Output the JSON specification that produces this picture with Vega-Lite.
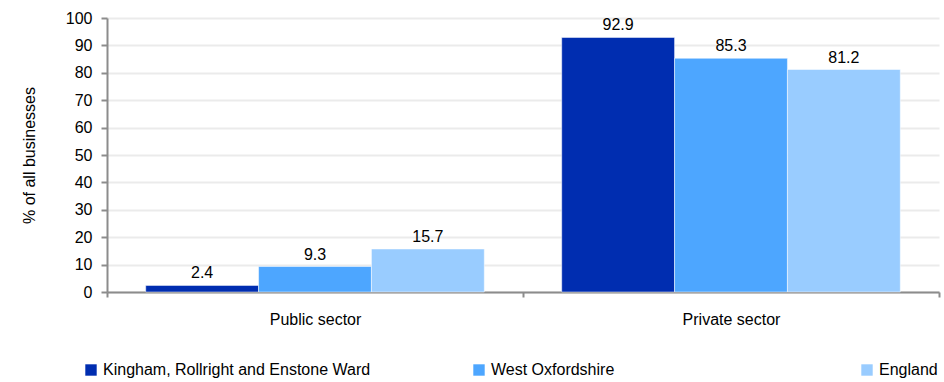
{
  "$schema": "https://vega.github.io/schema/vega-lite/v6.json",
  "width": 832,
  "height": 274,
  "padding": {"left": 21, "top": 10, "right": 4, "bottom": 5},
  "background": "white",
  "data": {
    "values": [
      {"sector": "Public sector", "area": "Kingham, Rollright and Enstone Ward", "value": 2.4},
      {"sector": "Public sector", "area": "West Oxfordshire", "value": 9.3},
      {"sector": "Public sector", "area": "England", "value": 15.7},
      {"sector": "Private sector", "area": "Kingham, Rollright and Enstone Ward", "value": 92.9},
      {"sector": "Private sector", "area": "West Oxfordshire", "value": 85.3},
      {"sector": "Private sector", "area": "England", "value": 81.2}
    ]
  },
  "encoding": {
    "x": {
      "field": "sector", "type": "nominal", "sort": ["Public sector", "Private sector"],
      "scale": {"paddingInner": 0, "paddingOuter": 0},
      "axis": {"title": null, "labelAngle": 0, "tickBand": "extent", "domainColor": "#8c8c8c", "domainWidth": 2, "tickColor": "#8c8c8c", "tickWidth": 2, "tickSize": 5, "labelPadding": 14, "labelFontSize": 16, "labelFont": "Liberation Sans", "labelColor": "#000"}
    },
    "xOffset": {
      "field": "area", "type": "nominal",
      "sort": ["Kingham, Rollright and Enstone Ward", "West Oxfordshire", "England"],
      "scale": {"paddingInner": 0, "paddingOuter": 0.343}
    },
    "y": {
      "field": "value", "type": "quantitative",
      "scale": {"domain": [0, 100]},
      "axis": {"title": "% of all businesses", "values": [0,10,20,30,40,50,60,70,80,90,100], "titleFont": "Liberation Sans", "titleFontWeight": "normal", "titleFontSize": 16, "titleColor": "#000", "titlePadding": 28, "labelFont": "Liberation Sans", "labelFontSize": 16, "labelColor": "#000", "labelPadding": 9, "domainColor": "#8c8c8c", "domainWidth": 2, "tickColor": "#8c8c8c", "tickWidth": 2, "tickSize": 6, "gridColor": "#ebebeb", "gridWidth": 2}
    }
  },
  "layer": [
    {
      "mark": {"type": "bar", "stroke": "white", "strokeWidth": 0.5},
      "encoding": {
        "color": {
          "field": "area", "type": "nominal",
          "sort": ["Kingham, Rollright and Enstone Ward", "West Oxfordshire", "England"],
          "scale": {"domain": ["Kingham, Rollright and Enstone Ward", "West Oxfordshire", "England"], "range": ["#002db0", "#4da6ff", "#99ccff"]},
          "legend": {"title": null, "orient": "none", "legendX": -24, "legendY": 344, "direction": "horizontal", "columns": 3, "gridAlign": "all", "columnPadding": 100, "symbolType": "square", "symbolSize": 130, "symbolStrokeWidth": 0, "labelFont": "Liberation Sans", "labelFontSize": 16, "labelLimit": 0, "labelColor": "#000", "padding": 0}
        }
      }
    },
    {
      "mark": {"type": "text", "dy": -12, "fontSize": 16, "font": "Liberation Sans", "color": "#000"},
      "encoding": {"text": {"field": "value", "type": "quantitative", "format": ".1f"}}
    }
  ],
  "config": {"view": {"stroke": null}}
}
